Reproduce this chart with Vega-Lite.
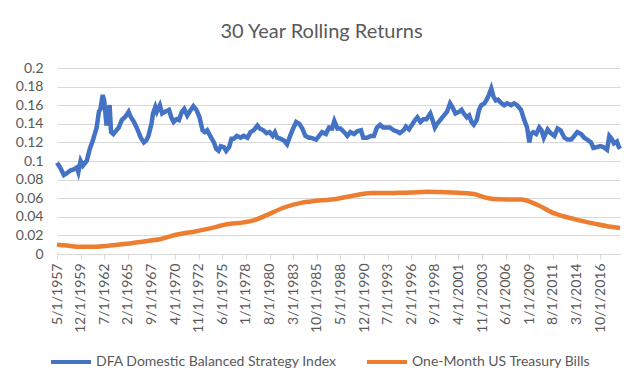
{
  "$schema": "https://vega.github.io/schema/vega-lite/v6.json",
  "width": 563,
  "height": 186,
  "autosize": "none",
  "padding": {"left": 57, "top": 68, "right": 22, "bottom": 134},
  "background": "white",
  "title": {
    "text": "30 Year Rolling Returns",
    "font": "Lato",
    "fontSize": 20,
    "fontWeight": "normal",
    "color": "#595959",
    "anchor": "middle",
    "dx": -17,
    "offset": 19
  },
  "datasets": {
    "dfa": [
      {"d": "1957-05-01", "v": 0.098}, {"d": "1957-09-01", "v": 0.093}, {"d": "1958-02-01", "v": 0.085},
      {"d": "1958-06-01", "v": 0.087}, {"d": "1958-11-01", "v": 0.090}, {"d": "1959-03-01", "v": 0.091},
      {"d": "1959-07-01", "v": 0.093}, {"d": "1959-09-01", "v": 0.088}, {"d": "1959-12-01", "v": 0.100},
      {"d": "1960-03-01", "v": 0.095}, {"d": "1960-08-01", "v": 0.100}, {"d": "1960-12-01", "v": 0.113},
      {"d": "1961-04-01", "v": 0.122}, {"d": "1961-09-01", "v": 0.136}, {"d": "1961-12-01", "v": 0.153},
      {"d": "1962-02-01", "v": 0.156}, {"d": "1962-05-01", "v": 0.171}, {"d": "1962-07-01", "v": 0.165},
      {"d": "1962-10-01", "v": 0.138}, {"d": "1962-12-01", "v": 0.153}, {"d": "1963-02-01", "v": 0.160},
      {"d": "1963-04-01", "v": 0.131}, {"d": "1963-07-01", "v": 0.129}, {"d": "1963-11-01", "v": 0.133},
      {"d": "1964-02-01", "v": 0.136}, {"d": "1964-06-01", "v": 0.144}, {"d": "1964-11-01", "v": 0.148},
      {"d": "1965-03-01", "v": 0.153}, {"d": "1965-06-01", "v": 0.147}, {"d": "1965-10-01", "v": 0.142},
      {"d": "1966-02-01", "v": 0.135}, {"d": "1966-07-01", "v": 0.125}, {"d": "1966-11-01", "v": 0.120},
      {"d": "1967-02-01", "v": 0.122}, {"d": "1967-05-01", "v": 0.127}, {"d": "1967-09-01", "v": 0.140},
      {"d": "1967-11-01", "v": 0.151}, {"d": "1968-02-01", "v": 0.158}, {"d": "1968-04-01", "v": 0.153},
      {"d": "1968-08-01", "v": 0.160}, {"d": "1968-11-01", "v": 0.151}, {"d": "1969-03-01", "v": 0.153},
      {"d": "1969-08-01", "v": 0.155}, {"d": "1969-11-01", "v": 0.147}, {"d": "1970-02-01", "v": 0.142},
      {"d": "1970-06-01", "v": 0.145}, {"d": "1970-09-01", "v": 0.144}, {"d": "1971-01-01", "v": 0.153},
      {"d": "1971-04-01", "v": 0.156}, {"d": "1971-08-01", "v": 0.149}, {"d": "1971-11-01", "v": 0.153},
      {"d": "1972-04-01", "v": 0.159}, {"d": "1972-08-01", "v": 0.155}, {"d": "1972-12-01", "v": 0.147},
      {"d": "1973-04-01", "v": 0.133}, {"d": "1973-07-01", "v": 0.131}, {"d": "1973-10-01", "v": 0.133},
      {"d": "1974-02-01", "v": 0.127}, {"d": "1974-07-01", "v": 0.120}, {"d": "1974-10-01", "v": 0.113},
      {"d": "1975-01-01", "v": 0.111}, {"d": "1975-04-01", "v": 0.116}, {"d": "1975-08-01", "v": 0.115},
      {"d": "1975-11-01", "v": 0.111}, {"d": "1976-03-01", "v": 0.115}, {"d": "1976-06-01", "v": 0.124},
      {"d": "1976-09-01", "v": 0.124}, {"d": "1977-01-01", "v": 0.127}, {"d": "1977-06-01", "v": 0.125},
      {"d": "1977-10-01", "v": 0.127}, {"d": "1978-03-01", "v": 0.125}, {"d": "1978-07-01", "v": 0.131},
      {"d": "1978-11-01", "v": 0.133}, {"d": "1979-04-01", "v": 0.138}, {"d": "1979-07-01", "v": 0.135},
      {"d": "1979-12-01", "v": 0.133}, {"d": "1980-04-01", "v": 0.130}, {"d": "1980-08-01", "v": 0.131},
      {"d": "1980-12-01", "v": 0.127}, {"d": "1981-03-01", "v": 0.131}, {"d": "1981-06-01", "v": 0.125},
      {"d": "1981-10-01", "v": 0.124}, {"d": "1982-03-01", "v": 0.122}, {"d": "1982-07-01", "v": 0.118},
      {"d": "1982-11-01", "v": 0.127}, {"d": "1983-03-01", "v": 0.135}, {"d": "1983-07-01", "v": 0.142},
      {"d": "1983-11-01", "v": 0.140}, {"d": "1984-03-01", "v": 0.135}, {"d": "1984-07-01", "v": 0.127},
      {"d": "1984-12-01", "v": 0.125}, {"d": "1985-02-01", "v": 0.125}, {"d": "1985-09-01", "v": 0.123},
      {"d": "1986-01-01", "v": 0.127}, {"d": "1986-05-01", "v": 0.131}, {"d": "1986-10-01", "v": 0.129},
      {"d": "1987-02-01", "v": 0.136}, {"d": "1987-06-01", "v": 0.135}, {"d": "1987-09-01", "v": 0.143},
      {"d": "1988-01-01", "v": 0.135}, {"d": "1988-05-01", "v": 0.135}, {"d": "1988-10-01", "v": 0.131},
      {"d": "1989-02-01", "v": 0.127}, {"d": "1989-06-01", "v": 0.131}, {"d": "1989-11-01", "v": 0.129},
      {"d": "1990-03-01", "v": 0.132}, {"d": "1990-08-01", "v": 0.133}, {"d": "1990-11-01", "v": 0.125},
      {"d": "1991-04-01", "v": 0.125}, {"d": "1991-09-01", "v": 0.127}, {"d": "1992-01-01", "v": 0.127},
      {"d": "1992-05-01", "v": 0.136}, {"d": "1992-09-01", "v": 0.139}, {"d": "1993-01-01", "v": 0.136},
      {"d": "1993-06-01", "v": 0.136}, {"d": "1993-10-01", "v": 0.136}, {"d": "1994-03-01", "v": 0.133},
      {"d": "1994-07-01", "v": 0.132}, {"d": "1994-11-01", "v": 0.130}, {"d": "1995-04-01", "v": 0.133},
      {"d": "1995-07-01", "v": 0.137}, {"d": "1995-11-01", "v": 0.134}, {"d": "1996-03-01", "v": 0.139},
      {"d": "1996-07-01", "v": 0.144}, {"d": "1996-10-01", "v": 0.147}, {"d": "1997-02-01", "v": 0.142},
      {"d": "1997-06-01", "v": 0.145}, {"d": "1997-10-01", "v": 0.145}, {"d": "1998-03-01", "v": 0.151},
      {"d": "1998-06-01", "v": 0.144}, {"d": "1998-09-01", "v": 0.136}, {"d": "1998-12-01", "v": 0.140},
      {"d": "1999-05-01", "v": 0.145}, {"d": "1999-09-01", "v": 0.149}, {"d": "2000-01-01", "v": 0.153},
      {"d": "2000-05-01", "v": 0.162}, {"d": "2000-08-01", "v": 0.158}, {"d": "2000-12-01", "v": 0.151},
      {"d": "2001-05-01", "v": 0.153}, {"d": "2001-08-01", "v": 0.155}, {"d": "2001-11-01", "v": 0.151},
      {"d": "2002-03-01", "v": 0.147}, {"d": "2002-06-01", "v": 0.149}, {"d": "2002-09-01", "v": 0.142},
      {"d": "2002-12-01", "v": 0.139}, {"d": "2003-04-01", "v": 0.144}, {"d": "2003-07-01", "v": 0.155},
      {"d": "2003-10-01", "v": 0.160}, {"d": "2004-02-01", "v": 0.162}, {"d": "2004-05-01", "v": 0.166},
      {"d": "2004-08-01", "v": 0.171}, {"d": "2004-11-01", "v": 0.178}, {"d": "2005-02-01", "v": 0.169},
      {"d": "2005-05-01", "v": 0.165}, {"d": "2005-08-01", "v": 0.166}, {"d": "2005-11-01", "v": 0.163},
      {"d": "2006-04-01", "v": 0.160}, {"d": "2006-08-01", "v": 0.162}, {"d": "2007-01-01", "v": 0.160},
      {"d": "2007-05-01", "v": 0.162}, {"d": "2007-09-01", "v": 0.160}, {"d": "2008-02-01", "v": 0.155},
      {"d": "2008-06-01", "v": 0.145}, {"d": "2008-10-01", "v": 0.136}, {"d": "2009-01-01", "v": 0.120},
      {"d": "2009-03-01", "v": 0.129}, {"d": "2009-06-01", "v": 0.131}, {"d": "2009-10-01", "v": 0.129},
      {"d": "2010-02-01", "v": 0.136}, {"d": "2010-05-01", "v": 0.133}, {"d": "2010-08-01", "v": 0.125},
      {"d": "2011-01-01", "v": 0.134}, {"d": "2011-05-01", "v": 0.130}, {"d": "2011-10-01", "v": 0.127},
      {"d": "2012-02-01", "v": 0.135}, {"d": "2012-06-01", "v": 0.133}, {"d": "2012-11-01", "v": 0.125},
      {"d": "2013-03-01", "v": 0.123}, {"d": "2013-08-01", "v": 0.123}, {"d": "2013-12-01", "v": 0.127},
      {"d": "2014-04-01", "v": 0.131}, {"d": "2014-09-01", "v": 0.129}, {"d": "2015-01-01", "v": 0.125},
      {"d": "2015-05-01", "v": 0.123}, {"d": "2015-10-01", "v": 0.120}, {"d": "2016-01-01", "v": 0.114},
      {"d": "2016-06-01", "v": 0.115}, {"d": "2016-10-01", "v": 0.116}, {"d": "2017-02-01", "v": 0.115},
      {"d": "2017-07-01", "v": 0.112}, {"d": "2017-10-01", "v": 0.127}, {"d": "2018-01-01", "v": 0.124},
      {"d": "2018-04-01", "v": 0.119}, {"d": "2018-08-01", "v": 0.121}, {"d": "2018-10-01", "v": 0.116},
      {"d": "2018-12-01", "v": 0.113}
    ],
    "tbill": [
      {"d": "1957-05-01", "v": 0.0100}, {"d": "1958-06-01", "v": 0.0092}, {"d": "1959-07-01", "v": 0.0078},
      {"d": "1961-05-01", "v": 0.0078}, {"d": "1963-03-01", "v": 0.0092}, {"d": "1965-01-01", "v": 0.0110},
      {"d": "1966-11-01", "v": 0.0135}, {"d": "1968-09-01", "v": 0.0162}, {"d": "1970-07-01", "v": 0.0210},
      {"d": "1972-05-01", "v": 0.0240}, {"d": "1974-02-01", "v": 0.0275}, {"d": "1975-12-01", "v": 0.0320},
      {"d": "1977-10-01", "v": 0.0340}, {"d": "1978-11-01", "v": 0.0362}, {"d": "1980-05-01", "v": 0.0420},
      {"d": "1982-03-01", "v": 0.0500}, {"d": "1984-01-01", "v": 0.0550}, {"d": "1985-02-01", "v": 0.0565},
      {"d": "1988-01-01", "v": 0.0595}, {"d": "1989-11-01", "v": 0.0630}, {"d": "1991-09-01", "v": 0.0655},
      {"d": "1994-03-01", "v": 0.0657}, {"d": "1996-01-01", "v": 0.0660}, {"d": "1997-11-01", "v": 0.0670},
      {"d": "1999-09-01", "v": 0.0665}, {"d": "2001-07-01", "v": 0.0657}, {"d": "2002-12-01", "v": 0.0645},
      {"d": "2004-06-01", "v": 0.0602}, {"d": "2005-07-01", "v": 0.0588}, {"d": "2008-02-01", "v": 0.0585},
      {"d": "2009-12-01", "v": 0.0527}, {"d": "2011-10-01", "v": 0.0436}, {"d": "2013-12-01", "v": 0.0375},
      {"d": "2016-02-01", "v": 0.0327}, {"d": "2017-12-01", "v": 0.0292}, {"d": "2018-12-01", "v": 0.0280}
    ]
  },
  "encoding": {
    "x": {
      "field": "d",
      "type": "temporal",
      "scale": {
        "type": "utc",
        "nice": false,
        "domain": [{"year": 1957, "month": 5, "date": 1, "utc": true}, {"year": 2018, "month": 12, "date": 1, "utc": true}]
      },
      "axis": {
        "title": null,
        "labelExpr": "utcFormat(datum.value, '%-m/%-d/%Y')",
        "labelAngle": -90,
        "labelAlign": "right",
        "labelBaseline": "middle",
        "labelFont": "Lato",
        "labelFontSize": 14,
        "labelColor": "#595959",
        "labelPadding": 4,
        "labelOverlap": false,
        "labelFlush": false,
        "grid": false,
        "domainColor": "#d9d9d9",
        "domainWidth": 1,
        "tickColor": "#d9d9d9",
        "tickSize": 5,
        "values": [
          {"year": 1957, "month": 5, "date": 1, "utc": true},
          {"year": 1959, "month": 12, "date": 1, "utc": true},
          {"year": 1962, "month": 7, "date": 1, "utc": true},
          {"year": 1965, "month": 2, "date": 1, "utc": true},
          {"year": 1967, "month": 9, "date": 1, "utc": true},
          {"year": 1970, "month": 4, "date": 1, "utc": true},
          {"year": 1972, "month": 11, "date": 1, "utc": true},
          {"year": 1975, "month": 6, "date": 1, "utc": true},
          {"year": 1978, "month": 1, "date": 1, "utc": true},
          {"year": 1980, "month": 8, "date": 1, "utc": true},
          {"year": 1983, "month": 3, "date": 1, "utc": true},
          {"year": 1985, "month": 10, "date": 1, "utc": true},
          {"year": 1988, "month": 5, "date": 1, "utc": true},
          {"year": 1990, "month": 12, "date": 1, "utc": true},
          {"year": 1993, "month": 7, "date": 1, "utc": true},
          {"year": 1996, "month": 2, "date": 1, "utc": true},
          {"year": 1998, "month": 9, "date": 1, "utc": true},
          {"year": 2001, "month": 4, "date": 1, "utc": true},
          {"year": 2003, "month": 11, "date": 1, "utc": true},
          {"year": 2006, "month": 6, "date": 1, "utc": true},
          {"year": 2009, "month": 1, "date": 1, "utc": true},
          {"year": 2011, "month": 8, "date": 1, "utc": true},
          {"year": 2014, "month": 3, "date": 1, "utc": true},
          {"year": 2016, "month": 10, "date": 1, "utc": true}
        ]
      }
    },
    "y": {
      "field": "v",
      "type": "quantitative",
      "scale": {"domain": [0, 0.2], "nice": false},
      "axis": {
        "title": null,
        "values": [0, 0.02, 0.04, 0.06, 0.08, 0.1, 0.12, 0.14, 0.16, 0.18, 0.2],
        "format": "~g",
        "labelFont": "Lato",
        "labelFontSize": 14,
        "labelColor": "#595959",
        "labelPadding": 14,
        "domain": false,
        "ticks": false,
        "gridColor": "#d9d9d9",
        "gridWidth": 1
      }
    },
    "color": {
      "type": "nominal",
      "scale": {
        "domain": ["DFA Domestic Balanced Strategy Index", "One-Month US Treasury Bills"],
        "range": ["#4472C4", "#ED7D31"]
      },
      "legend": {
        "title": null,
        "orient": "none",
        "direction": "horizontal",
        "legendX": -8,
        "legendY": 272,
        "padding": 0,
        "symbolType": "stroke",
        "symbolSize": 1600,
        "symbolStrokeWidth": 4,
        "labelFont": "Lato",
        "labelFontSize": 14,
        "labelColor": "#595959",
        "labelOffset": 3,
        "columnPadding": 22,
        "labelLimit": 400
      }
    }
  },
  "layer": [
    {
      "data": {"name": "dfa"},
      "mark": {"type": "line", "strokeWidth": 4.5, "interpolate": "linear"},
      "encoding": {"color": {"datum": "DFA Domestic Balanced Strategy Index"}}
    },
    {
      "data": {"name": "tbill"},
      "mark": {"type": "line", "strokeWidth": 4.5, "interpolate": "monotone"},
      "encoding": {"color": {"datum": "One-Month US Treasury Bills"}}
    }
  ],
  "config": {
    "view": {"stroke": null},
    "font": "Lato"
  }
}
